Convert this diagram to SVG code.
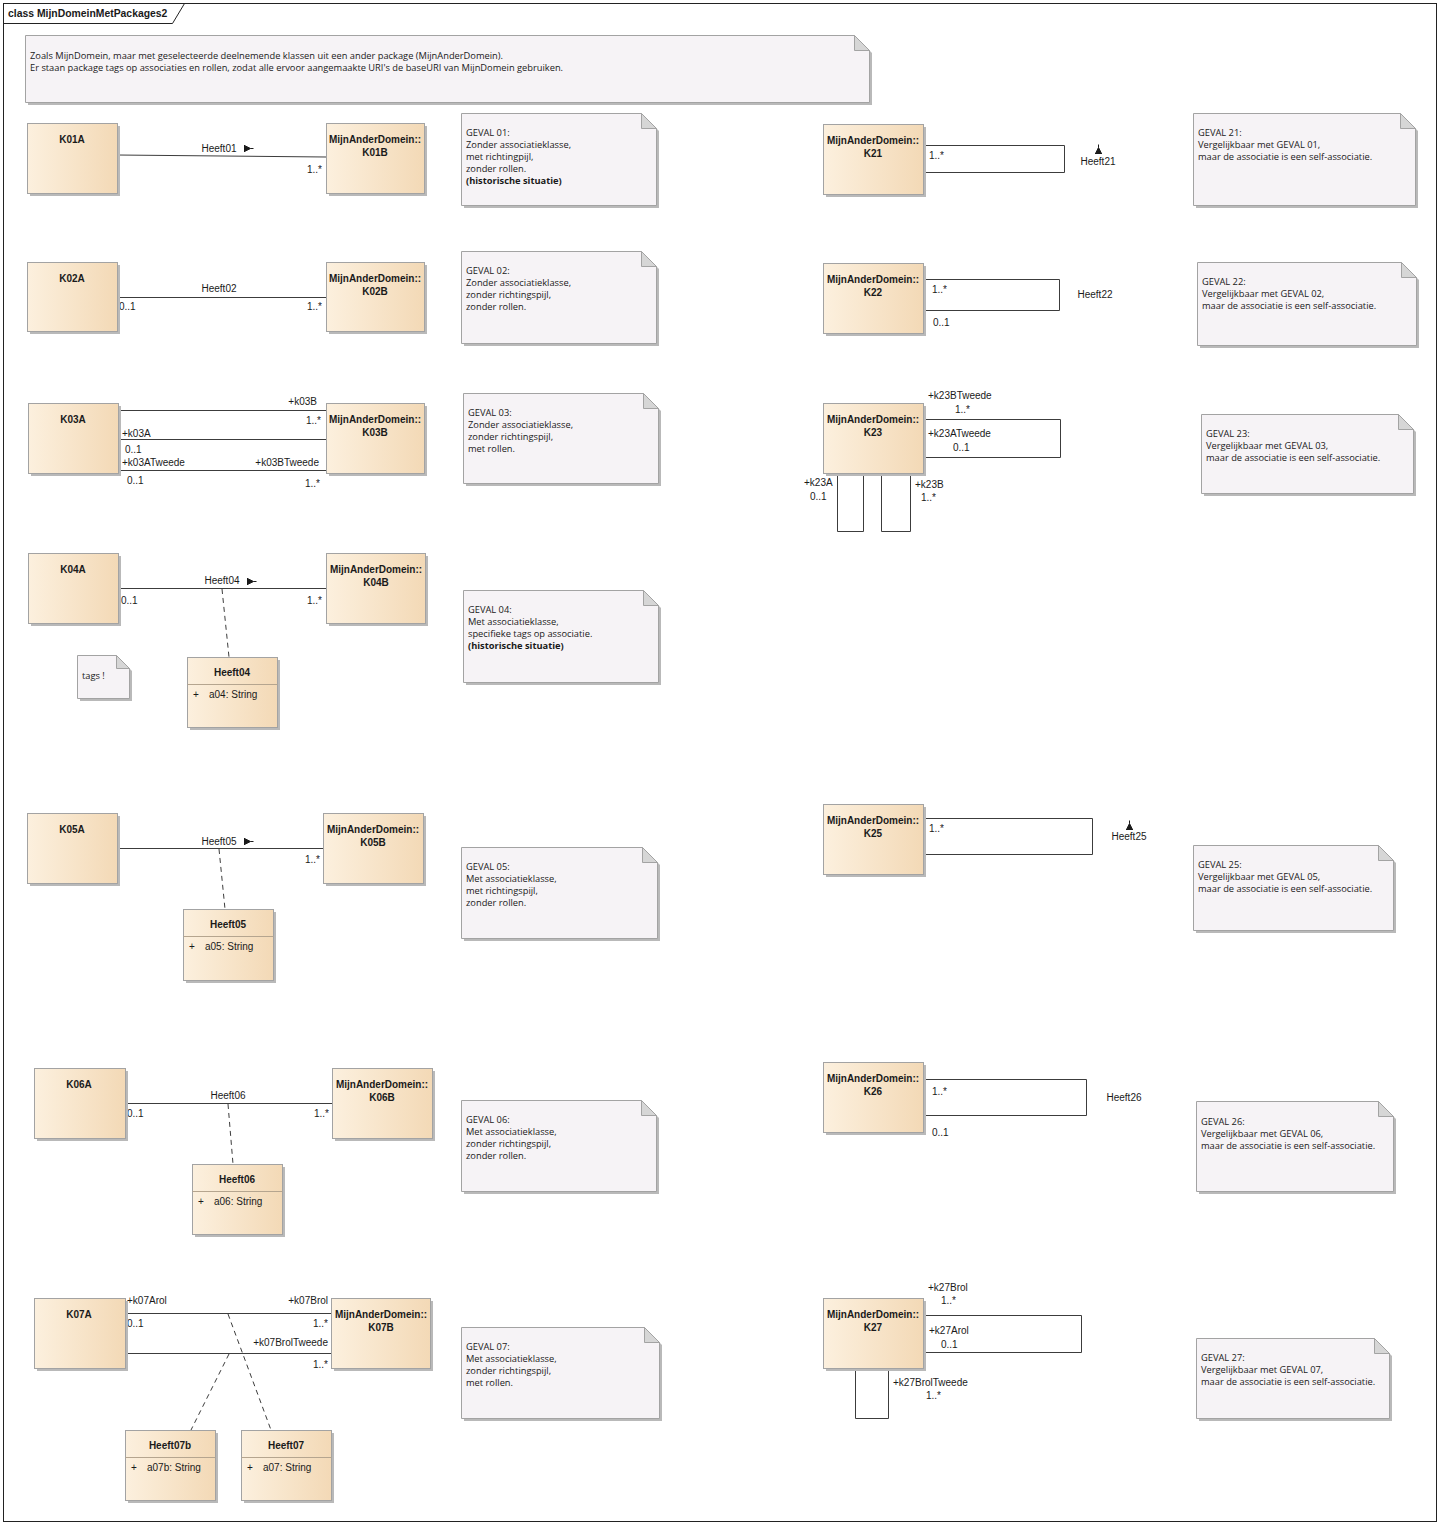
<svg xmlns="http://www.w3.org/2000/svg" xmlns:xlink="http://www.w3.org/1999/xlink" width="1440" height="1525" viewBox="0 0 1440 1525">
<defs>
<linearGradient id="cg" x1="0" y1="0" x2="1" y2="0">
<stop offset="0" stop-color="#fcf0de"/>
<stop offset="1" stop-color="#f3d9b6"/>
</linearGradient>
<path id="dirH" d="M0,-3.5V3.5M0,-3L6,0L0,3ZM6,0H9"/>
<path id="dirV" d="M-3.5,0H3.5M-3,0L0,-6L3,0ZM0,-6V-9"/>
</defs>
<style>
.box{fill:url(#cg);stroke:#a3a3a3;stroke-width:1}
.sh{fill:#b9b9b9}
.note{fill:#f6f3f6;stroke:#a3a3a3;stroke-width:1}
.fold{fill:#d6d6d6;stroke:#a3a3a3;stroke-width:1}
.sep{stroke:#b5a58f;stroke-width:1}
.t{font-family:"Liberation Sans",Arial,sans-serif;font-size:10px;fill:#1a1a1a}
.b{font-weight:bold}
.n{font-family:"Open Sans","Noto Sans",sans-serif;font-size:9.3px;fill:#1a1a1a}
.c{text-anchor:middle}
.e{text-anchor:end}
.ln{stroke:#3c3c3c;stroke-width:1;fill:none}
.dash{stroke-dasharray:5,4}
.dir{fill:#1a1a1a;stroke:#1a1a1a;stroke-width:1}
</style>
<rect x="0" y="0" width="1440" height="1525" fill="#ffffff"/>
<g id="frame">
<rect x="3.5" y="3.5" width="1433" height="1518" fill="none" stroke="#222" stroke-width="1"/>
<path d="M3.5,23.5H172.5L184.5,3.5" fill="none" stroke="#222" stroke-width="1"/>
<text class="t b" x="8" y="17" style="font-size:10.4px">class MijnDomeinMetPackages2</text>
</g>

<g id="note-intro">
<path class="sh" d="M28,38H857L872,53V105H28Z"/>
<path class="note" d="M25.5,35.5H854.5L869.5,50.5V102.5H25.5Z"/>
<path class="fold" d="M854.5,35.5L869.5,50.5H854.5Z"/>
<text class="n" x="30" y="59">Zoals MijnDomein, maar met geselecteerde deelnemende klassen uit een ander package (MijnAnderDomein).</text>
<text class="n" x="30" y="71">Er staan package tags op associaties en rollen, zodat alle ervoor aangemaakte URI's de baseURI van MijnDomein gebruiken.</text>
</g>

<g id="connectors">
<path class="ln" d="M117,155L326,157"/>
<path class="ln" d="M117,297.5H326"/>
<path class="ln" d="M118,410.5H326M118,439.5H326M118,470.5H326"/>
<path class="ln" d="M118,588.5H326"/>
<path class="ln dash" d="M222,589L229,657"/>
<path class="ln" d="M117,848.5H323"/>
<path class="ln dash" d="M219,849L225,909"/>
<path class="ln" d="M125,1103.5H332"/>
<path class="ln dash" d="M228,1104L233,1164"/>
<path class="ln" d="M125,1313.5H331M125,1353.5H331"/>
<path class="ln dash" d="M228,1314L271,1430"/>
<path class="ln dash" d="M229,1354L191,1430"/>
<path class="ln" d="M923,145.5H1064.5V172.5H923"/>
<path class="ln" d="M923,279.5H1059.5V310.5H923"/>
<path class="ln" d="M923,419.5H1060.5V457.5H923"/>
<path class="ln" d="M837.5,473V531.5H863.5V473"/>
<path class="ln" d="M881.5,473V531.5H910.5V473"/>
<path class="ln" d="M923,818.5H1092.5V854.5H923"/>
<path class="ln" d="M923,1079.5H1086.5V1115.5H923"/>
<path class="ln" d="M923,1315.5H1081.5V1352.5H923"/>
<path class="ln" d="M855.5,1368V1418.5H888.5V1368"/>
<use xlink:href="#dirH" class="dir" x="244.5" y="148.5"/>
<use xlink:href="#dirH" class="dir" x="247.5" y="581.5"/>
<use xlink:href="#dirH" class="dir" x="244.5" y="841.5"/>
<use xlink:href="#dirV" class="dir" x="1098.5" y="153.5"/>
<use xlink:href="#dirV" class="dir" x="1129.5" y="829.5"/>
<text class="t c" x="219" y="152">Heeft01</text>
<text class="t e" x="322" y="173">1..*</text>
<text class="t c" x="219" y="292">Heeft02</text>
<text class="t" x="119" y="310">0..1</text>
<text class="t e" x="322" y="310">1..*</text>
<text class="t e" x="317" y="405">+k03B</text>
<text class="t e" x="321" y="424">1..*</text>
<text class="t" x="122" y="437">+k03A</text>
<text class="t" x="125" y="453">0..1</text>
<text class="t" x="122" y="466">+k03ATweede</text>
<text class="t e" x="319" y="466">+k03BTweede</text>
<text class="t" x="127" y="484">0..1</text>
<text class="t e" x="320" y="487">1..*</text>
<text class="t c" x="222" y="584">Heeft04</text>
<text class="t" x="121" y="604">0..1</text>
<text class="t e" x="322" y="604">1..*</text>
<text class="t c" x="219" y="845">Heeft05</text>
<text class="t e" x="320" y="863">1..*</text>
<text class="t c" x="228" y="1099">Heeft06</text>
<text class="t" x="127" y="1117">0..1</text>
<text class="t e" x="329" y="1117">1..*</text>
<text class="t" x="127" y="1304">+k07Arol</text>
<text class="t e" x="328" y="1304">+k07Brol</text>
<text class="t" x="127" y="1327">0..1</text>
<text class="t e" x="328" y="1327">1..*</text>
<text class="t e" x="328" y="1346">+k07BrolTweede</text>
<text class="t e" x="328" y="1368">1..*</text>
<text class="t" x="929" y="159">1..*</text>
<text class="t c" x="1098" y="165">Heeft21</text>
<text class="t" x="932" y="293">1..*</text>
<text class="t" x="933" y="326">0..1</text>
<text class="t c" x="1095" y="298">Heeft22</text>
<text class="t" x="928" y="399">+k23BTweede</text>
<text class="t" x="955" y="413">1..*</text>
<text class="t" x="928" y="437">+k23ATweede</text>
<text class="t" x="953" y="451">0..1</text>
<text class="t" x="804" y="486">+k23A</text>
<text class="t" x="810" y="500">0..1</text>
<text class="t" x="915" y="488">+k23B</text>
<text class="t" x="921" y="501">1..*</text>
<text class="t" x="929" y="832">1..*</text>
<text class="t c" x="1129" y="840">Heeft25</text>
<text class="t" x="932" y="1095">1..*</text>
<text class="t" x="932" y="1136">0..1</text>
<text class="t c" x="1124" y="1101">Heeft26</text>
<text class="t" x="928" y="1291">+k27Brol</text>
<text class="t" x="941" y="1304">1..*</text>
<text class="t" x="929" y="1334">+k27Arol</text>
<text class="t" x="941" y="1348">0..1</text>
<text class="t" x="893" y="1386">+k27BrolTweede</text>
<text class="t" x="926" y="1399">1..*</text>
</g>

<g id="K01A"><rect class="sh" x="30" y="126" width="90" height="70"/><rect class="box" x="27.5" y="123.5" width="90" height="70"/><text class="t b c" x="72" y="143">K01A</text></g>
<g id="K01B"><rect class="sh" x="329" y="126" width="98" height="70"/><rect class="box" x="326.5" y="123.5" width="98" height="70"/><text class="t b c" x="375" y="143">MijnAnderDomein::</text><text class="t b c" x="375" y="156">K01B</text></g>
<g id="K02A"><rect class="sh" x="30" y="265" width="90" height="69"/><rect class="box" x="27.5" y="262.5" width="90" height="69"/><text class="t b c" x="72" y="282">K02A</text></g>
<g id="K02B"><rect class="sh" x="329" y="265" width="98" height="69"/><rect class="box" x="326.5" y="262.5" width="98" height="69"/><text class="t b c" x="375" y="282">MijnAnderDomein::</text><text class="t b c" x="375" y="295">K02B</text></g>
<g id="K03A"><rect class="sh" x="31" y="406" width="90" height="70"/><rect class="box" x="28.5" y="403.5" width="90" height="70"/><text class="t b c" x="73" y="423">K03A</text></g>
<g id="K03B"><rect class="sh" x="329" y="406" width="98" height="70"/><rect class="box" x="326.5" y="403.5" width="98" height="70"/><text class="t b c" x="375" y="423">MijnAnderDomein::</text><text class="t b c" x="375" y="436">K03B</text></g>
<g id="K04A"><rect class="sh" x="31" y="556" width="90" height="70"/><rect class="box" x="28.5" y="553.5" width="90" height="70"/><text class="t b c" x="73" y="573">K04A</text></g>
<g id="K04B"><rect class="sh" x="329" y="556" width="99" height="70"/><rect class="box" x="326.5" y="553.5" width="99" height="70"/><text class="t b c" x="376" y="573">MijnAnderDomein::</text><text class="t b c" x="376" y="586">K04B</text></g>
<g id="Heeft04"><rect class="sh" x="190" y="660" width="90" height="70"/><rect class="box" x="187.5" y="657.5" width="90" height="70"/><path class="sep" d="M187.5,684.5H277.5"/><text class="t b c" x="232" y="676">Heeft04</text><text class="t" x="193" y="698">+</text><text class="t" x="209" y="698">a04: String</text></g>
<g id="K05A"><rect class="sh" x="30" y="816" width="90" height="70"/><rect class="box" x="27.5" y="813.5" width="90" height="70"/><text class="t b c" x="72" y="833">K05A</text></g>
<g id="K05B"><rect class="sh" x="326" y="816" width="100" height="70"/><rect class="box" x="323.5" y="813.5" width="100" height="70"/><text class="t b c" x="373" y="833">MijnAnderDomein::</text><text class="t b c" x="373" y="846">K05B</text></g>
<g id="Heeft05"><rect class="sh" x="186" y="912" width="90" height="71"/><rect class="box" x="183.5" y="909.5" width="90" height="71"/><path class="sep" d="M183.5,936.5H273.5"/><text class="t b c" x="228" y="928">Heeft05</text><text class="t" x="189" y="950">+</text><text class="t" x="205" y="950">a05: String</text></g>
<g id="K06A"><rect class="sh" x="37" y="1071" width="91" height="70"/><rect class="box" x="34.5" y="1068.5" width="91" height="70"/><text class="t b c" x="79" y="1088">K06A</text></g>
<g id="K06B"><rect class="sh" x="335" y="1071" width="100" height="70"/><rect class="box" x="332.5" y="1068.5" width="100" height="70"/><text class="t b c" x="382" y="1088">MijnAnderDomein::</text><text class="t b c" x="382" y="1101">K06B</text></g>
<g id="Heeft06"><rect class="sh" x="195" y="1167" width="90" height="70"/><rect class="box" x="192.5" y="1164.5" width="90" height="70"/><path class="sep" d="M192.5,1191.5H282.5"/><text class="t b c" x="237" y="1183">Heeft06</text><text class="t" x="198" y="1205">+</text><text class="t" x="214" y="1205">a06: String</text></g>
<g id="K07A"><rect class="sh" x="37" y="1301" width="91" height="70"/><rect class="box" x="34.5" y="1298.5" width="91" height="70"/><text class="t b c" x="79" y="1318">K07A</text></g>
<g id="K07B"><rect class="sh" x="334" y="1301" width="99" height="70"/><rect class="box" x="331.5" y="1298.5" width="99" height="70"/><text class="t b c" x="381" y="1318">MijnAnderDomein::</text><text class="t b c" x="381" y="1331">K07B</text></g>
<g id="Heeft07b"><rect class="sh" x="128" y="1433" width="90" height="70"/><rect class="box" x="125.5" y="1430.5" width="90" height="70"/><path class="sep" d="M125.5,1457.5H215.5"/><text class="t b c" x="170" y="1449">Heeft07b</text><text class="t" x="131" y="1471">+</text><text class="t" x="147" y="1471">a07b: String</text></g>
<g id="Heeft07"><rect class="sh" x="244" y="1433" width="90" height="70"/><rect class="box" x="241.5" y="1430.5" width="90" height="70"/><path class="sep" d="M241.5,1457.5H331.5"/><text class="t b c" x="286" y="1449">Heeft07</text><text class="t" x="247" y="1471">+</text><text class="t" x="263" y="1471">a07: String</text></g>

<g id="K21"><rect class="sh" x="826" y="127" width="100" height="70"/><rect class="box" x="823.5" y="124.5" width="100" height="70"/><text class="t b c" x="873" y="144">MijnAnderDomein::</text><text class="t b c" x="873" y="157">K21</text></g>
<g id="K22"><rect class="sh" x="826" y="266" width="100" height="70"/><rect class="box" x="823.5" y="263.5" width="100" height="70"/><text class="t b c" x="873" y="283">MijnAnderDomein::</text><text class="t b c" x="873" y="296">K22</text></g>
<g id="K23"><rect class="sh" x="826" y="406" width="100" height="70"/><rect class="box" x="823.5" y="403.5" width="100" height="70"/><text class="t b c" x="873" y="423">MijnAnderDomein::</text><text class="t b c" x="873" y="436">K23</text></g>
<g id="K25"><rect class="sh" x="826" y="807" width="100" height="70"/><rect class="box" x="823.5" y="804.5" width="100" height="70"/><text class="t b c" x="873" y="824">MijnAnderDomein::</text><text class="t b c" x="873" y="837">K25</text></g>
<g id="K26"><rect class="sh" x="826" y="1065" width="100" height="70"/><rect class="box" x="823.5" y="1062.5" width="100" height="70"/><text class="t b c" x="873" y="1082">MijnAnderDomein::</text><text class="t b c" x="873" y="1095">K26</text></g>
<g id="K27"><rect class="sh" x="826" y="1301" width="100" height="70"/><rect class="box" x="823.5" y="1298.5" width="100" height="70"/><text class="t b c" x="873" y="1318">MijnAnderDomein::</text><text class="t b c" x="873" y="1331">K27</text></g>

<g id="note-01"><path class="sh" d="M464,116H644L659,131V208H464Z"/><path class="note" d="M461.5,113.5H641.5L656.5,128.5V205.5H461.5Z"/><path class="fold" d="M641.5,113.5L656.5,128.5H641.5Z"/>
<text class="n" x="466" y="136">GEVAL 01:</text><text class="n" x="466" y="148">Zonder associatieklasse,</text><text class="n" x="466" y="160">met richtingpijl,</text><text class="n" x="466" y="172">zonder rollen.</text><text class="n b" x="466" y="184">(historische situatie)</text></g>
<g id="note-02"><path class="sh" d="M464,254H644L659,269V346H464Z"/><path class="note" d="M461.5,251.5H641.5L656.5,266.5V343.5H461.5Z"/><path class="fold" d="M641.5,251.5L656.5,266.5H641.5Z"/>
<text class="n" x="466" y="274">GEVAL 02:</text><text class="n" x="466" y="286">Zonder associatieklasse,</text><text class="n" x="466" y="298">zonder richtingspijl,</text><text class="n" x="466" y="310">zonder rollen.</text></g>
<g id="note-03"><path class="sh" d="M466,396H646L661,411V486H466Z"/><path class="note" d="M463.5,393.5H643.5L658.5,408.5V483.5H463.5Z"/><path class="fold" d="M643.5,393.5L658.5,408.5H643.5Z"/>
<text class="n" x="468" y="416">GEVAL 03:</text><text class="n" x="468" y="428">Zonder associatieklasse,</text><text class="n" x="468" y="440">zonder richtingspijl,</text><text class="n" x="468" y="452">met rollen.</text></g>
<g id="note-04"><path class="sh" d="M466,593H646L661,608V685H466Z"/><path class="note" d="M463.5,590.5H643.5L658.5,605.5V682.5H463.5Z"/><path class="fold" d="M643.5,590.5L658.5,605.5H643.5Z"/>
<text class="n" x="468" y="613">GEVAL 04:</text><text class="n" x="468" y="625">Met associatieklasse,</text><text class="n" x="468" y="637">specifieke tags op associatie.</text><text class="n b" x="468" y="649">(historische situatie)</text></g>
<g id="note-tags"><path class="sh" d="M80,658H119L132,671V701H80Z"/><path class="note" d="M77.5,655.5H116.5L129.5,668.5V698.5H77.5Z"/><path class="fold" d="M116.5,655.5L129.5,668.5H116.5Z"/>
<text class="n" x="82" y="679">tags !</text></g>
<g id="note-05"><path class="sh" d="M464,850H645L660,865V941H464Z"/><path class="note" d="M461.5,847.5H642.5L657.5,862.5V938.5H461.5Z"/><path class="fold" d="M642.5,847.5L657.5,862.5H642.5Z"/>
<text class="n" x="466" y="870">GEVAL 05:</text><text class="n" x="466" y="882">Met associatieklasse,</text><text class="n" x="466" y="894">met richtingspijl,</text><text class="n" x="466" y="906">zonder rollen.</text></g>
<g id="note-06"><path class="sh" d="M464,1103H644L659,1118V1194H464Z"/><path class="note" d="M461.5,1100.5H641.5L656.5,1115.5V1191.5H461.5Z"/><path class="fold" d="M641.5,1100.5L656.5,1115.5H641.5Z"/>
<text class="n" x="466" y="1123">GEVAL 06:</text><text class="n" x="466" y="1135">Met associatieklasse,</text><text class="n" x="466" y="1147">zonder richtingspijl,</text><text class="n" x="466" y="1159">zonder rollen.</text></g>
<g id="note-07"><path class="sh" d="M464,1330H647L662,1345V1421H464Z"/><path class="note" d="M461.5,1327.5H644.5L659.5,1342.5V1418.5H461.5Z"/><path class="fold" d="M644.5,1327.5L659.5,1342.5H644.5Z"/>
<text class="n" x="466" y="1350">GEVAL 07:</text><text class="n" x="466" y="1362">Met associatieklasse,</text><text class="n" x="466" y="1374">zonder richtingspijl,</text><text class="n" x="466" y="1386">met rollen.</text></g>

<g id="note-21"><path class="sh" d="M1196,116H1403L1418,131V208H1196Z"/><path class="note" d="M1193.5,113.5H1400.5L1415.5,128.5V205.5H1193.5Z"/><path class="fold" d="M1400.5,113.5L1415.5,128.5H1400.5Z"/>
<text class="n" x="1198" y="136">GEVAL 21:</text><text class="n" x="1198" y="148">Vergelijkbaar met GEVAL 01,</text><text class="n" x="1198" y="160">maar de associatie is een self-associatie.</text></g>
<g id="note-22"><path class="sh" d="M1200,265H1404L1419,280V348H1200Z"/><path class="note" d="M1197.5,262.5H1401.5L1416.5,277.5V345.5H1197.5Z"/><path class="fold" d="M1401.5,262.5L1416.5,277.5H1401.5Z"/>
<text class="n" x="1202" y="285">GEVAL 22:</text><text class="n" x="1202" y="297">Vergelijkbaar met GEVAL 02,</text><text class="n" x="1202" y="309">maar de associatie is een self-associatie.</text></g>
<g id="note-23"><path class="sh" d="M1204,417H1401L1416,432V496H1204Z"/><path class="note" d="M1201.5,414.5H1398.5L1413.5,429.5V493.5H1201.5Z"/><path class="fold" d="M1398.5,414.5L1413.5,429.5H1398.5Z"/>
<text class="n" x="1206" y="437">GEVAL 23:</text><text class="n" x="1206" y="449">Vergelijkbaar met GEVAL 03,</text><text class="n" x="1206" y="461">maar de associatie is een self-associatie.</text></g>
<g id="note-25"><path class="sh" d="M1196,848H1381L1396,863V933H1196Z"/><path class="note" d="M1193.5,845.5H1378.5L1393.5,860.5V930.5H1193.5Z"/><path class="fold" d="M1378.5,845.5L1393.5,860.5H1378.5Z"/>
<text class="n" x="1198" y="868">GEVAL 25:</text><text class="n" x="1198" y="880">Vergelijkbaar met GEVAL 05,</text><text class="n" x="1198" y="892">maar de associatie is een self-associatie.</text></g>
<g id="note-26"><path class="sh" d="M1199,1104H1381L1396,1119V1194H1199Z"/><path class="note" d="M1196.5,1101.5H1378.5L1393.5,1116.5V1191.5H1196.5Z"/><path class="fold" d="M1378.5,1101.5L1393.5,1116.5H1378.5Z"/>
<text class="n" x="1201" y="1125">GEVAL 26:</text><text class="n" x="1201" y="1137">Vergelijkbaar met GEVAL 06,</text><text class="n" x="1201" y="1149">maar de associatie is een self-associatie.</text></g>
<g id="note-27"><path class="sh" d="M1199,1341H1377L1392,1356V1421H1199Z"/><path class="note" d="M1196.5,1338.5H1374.5L1389.5,1353.5V1418.5H1196.5Z"/><path class="fold" d="M1374.5,1338.5L1389.5,1353.5H1374.5Z"/>
<text class="n" x="1201" y="1361">GEVAL 27:</text><text class="n" x="1201" y="1373">Vergelijkbaar met GEVAL 07,</text><text class="n" x="1201" y="1385">maar de associatie is een self-associatie.</text></g>
</svg>
